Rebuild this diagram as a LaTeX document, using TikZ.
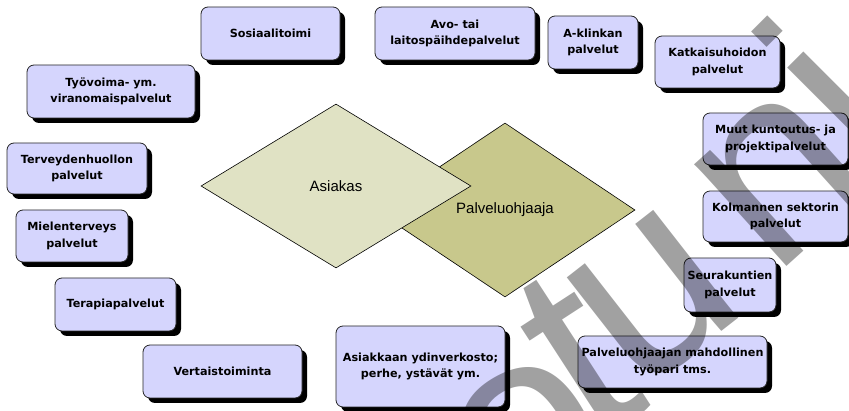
\documentclass[tikz,border=0pt]{standalone}
\usepackage{fontspec}
\setmainfont{DejaVu Sans}
\newfontfamily\diamondfont{Liberation Sans}
\newfontfamily\markfont{Liberation Sans}
\usetikzlibrary{shapes.geometric,shadows}

\definecolor{boxfill}{RGB}{213,213,253}
\definecolor{clientfill}{RGB}{224,226,196}
\definecolor{guidefill}{RGB}{200,200,140}

\tikzset{
  service/.style={
    draw=black!85, line width=0.8pt, fill=boxfill,
    rounded corners=7pt, inner sep=0pt, align=center,
    font=\fontsize{11.2}{16.5}\selectfont\bfseries,
    drop shadow={shadow xshift=5pt, shadow yshift=-5pt, fill=black, opacity=1}
  },
  role/.style={
    diamond, draw=black, line width=0.6pt, inner sep=0pt,
    font=\diamondfont\fontsize{15}{18}\selectfont
  },
  markletter/.style={
    anchor=base west, inner sep=0pt, text=black, text opacity=0.37,
    font=\markfont\fontsize{260}{260}\selectfont
  }
}

\begin{document}
\begin{tikzpicture}[x=1pt,y=-1pt]
  \useasboundingbox (0,0) rectangle (849,411);

  % the two roles in the middle
  \node[role, fill=guidefill, minimum width=260pt, minimum height=174pt] (guide) at (505,210) {Palveluohjaaja};
  \node[role, fill=clientfill, minimum width=270pt, minimum height=164pt] (client) at (336,186) {Asiakas};

  % services around them
  \node[service, minimum width=139pt, minimum height=53pt] (sos) at (270.5,33.5) {Sosiaalitoimi};
  \node[service, minimum width=160pt, minimum height=53pt] (avo) at (455,33.5) {Avo- tai\\laitospäihdepalvelut};
  \node[service, minimum width=90pt, minimum height=53pt] (akl) at (593,42.5) {A-klinkan\\palvelut};
  \node[service, minimum width=125pt, minimum height=52pt] (kat) at (717.5,62) {Katkaisuhoidon\\palvelut};
  \node[service, minimum width=145pt, minimum height=52pt] (muut) at (775.5,139) {Muut kuntoutus- ja\\projektipalvelut};
  \node[service, minimum width=145pt, minimum height=51pt] (kolm) at (775.5,216.5) {Kolmannen sektorin\\palvelut};
  \node[service, minimum width=92pt, minimum height=54pt] (seur) at (730,285) {Seurakuntien\\palvelut};
  \node[service, minimum width=189pt, minimum height=52pt] (pari) at (672.5,362) {Palveluohjaajan mahdollinen\\työpari tms.};
  \node[service, minimum width=169pt, minimum height=81pt] (ydin) at (420.5,366.5) {Asiakkaan ydinverkosto;\\perhe, ystävät ym.};
  \node[service, minimum width=159pt, minimum height=53pt] (vert) at (222.5,371.5) {Vertaistoiminta};
  \node[service, minimum width=121pt, minimum height=53pt] (ter) at (115.5,304.5) {Terapiapalvelut};
  \node[service, minimum width=112pt, minimum height=52pt] (miel) at (72,236) {Mielenterveys\\palvelut};
  \node[service, minimum width=140pt, minimum height=51pt] (terv) at (77,168.5) {Terveydenhuollon\\palvelut};
  \node[service, minimum width=168pt, minimum height=53pt] (tyo) at (111,91.5) {Työvoima- ym.\\viranomaispalvelut};

  % watermark lettering, bending upwards to the right
  \begin{scope}
    \clip (0,0) rectangle (849,411);
    \node[markletter, rotate=30] (mark1) at (501,536) {o};
    \node[markletter, rotate=33] (mark2) at (592,445) {t};
    \node[markletter, rotate=38] (mark3) at (638,397) {u};
    \node[markletter, rotate=42] (mark4) at (773,279) {n};
    \node[markletter, rotate=45] (mark5) at (872,178) {i};
  \end{scope}
\end{tikzpicture}
\end{document}
